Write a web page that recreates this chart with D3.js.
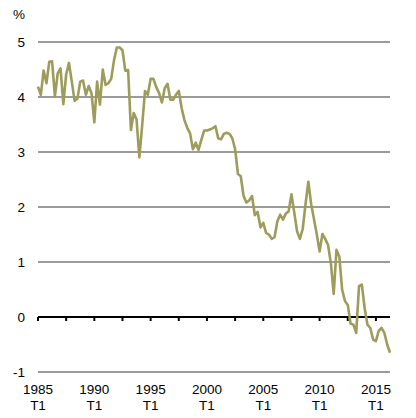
<!DOCTYPE html>
<html>
<head>
<meta charset="utf-8">
<script src="https://cdn.jsdelivr.net/npm/d3@7"></script>
<style>
    body { margin: 0; background: #fff; }
    text { font-family: "Liberation Sans", Arial, sans-serif; font-size: 13.5px; fill: #000; }
</style>
</head>
<body>
<svg id="chart" width="416" height="418"></svg>
<script>
"use strict";

// quarterly values, 1985 T1 .. 2016 T2 (%)
var values = [
    4.19, 4.04, 4.48, 4.25, 4.64, 4.65, 4.01, 4.43, 4.52, 3.87,
    4.41, 4.62, 4.28, 3.93, 3.97, 4.28, 4.30, 4.04, 4.20, 4.07,
    3.54, 4.28, 3.86, 4.50, 4.22, 4.25, 4.33, 4.67, 4.90, 4.90,
    4.85, 4.48, 4.49, 3.40, 3.71, 3.59, 2.90, 3.49, 4.11, 4.04,
    4.33, 4.33, 4.18, 4.07, 3.90, 4.16, 4.24, 3.95, 3.95, 4.04,
    4.11, 3.80, 3.58, 3.44, 3.34, 3.05, 3.17, 3.04, 3.22, 3.39,
    3.39, 3.41, 3.43, 3.47, 3.25, 3.23, 3.33, 3.35, 3.33, 3.25,
    3.05, 2.60, 2.56, 2.20, 2.08, 2.12, 2.20, 1.85, 1.91, 1.63,
    1.71, 1.53, 1.50, 1.42, 1.45, 1.74, 1.86, 1.77, 1.88, 1.92,
    2.23, 1.90, 1.56, 1.42, 1.60, 2.05, 2.46, 2.05, 1.78, 1.50,
    1.19, 1.51, 1.42, 1.31, 0.98, 0.42, 1.22, 1.10, 0.50, 0.29,
    0.22, -0.12, -0.14, -0.29, 0.56, 0.59, 0.16, -0.14, -0.20, -0.41,
    -0.44, -0.25, -0.20, -0.29, -0.50, -0.65
];

// y axis ticks
var yTicks = [-1, 0, 1, 2, 3, 4, 5];

// x axis labels, one every 20 quarters
var xLabels = ["1985", "1990", "1995", "2000", "2005", "2010", "2015"];
var xLabelSub = "T1";

var svg = d3.select("#chart");

var x = d3.scaleLinear()
    .domain([0, values.length - 1])
    .range([38, 390]);

var y = d3.scaleLinear()
    .domain([-1, 5])
    .range([372, 42]);

//grid lines
svg.append("g")
    .attr("class", "grid")
    .selectAll("line")
    .data(yTicks.filter(function(d){ return d !== 0; }))
    .enter()
    .append("line")
    .attr("x1", x(0))
    .attr("x2", x(values.length - 1))
    .attr("y1", function(d){ return y(d); })
    .attr("y2", function(d){ return y(d); })
    .attr("stroke", "#7a7a7a")
    .attr("stroke-width", 1.5);

//y labels
svg.append("g")
    .selectAll("text")
    .data(yTicks)
    .enter()
    .append("text")
    .attr("x", 25)
    .attr("y", function(d){ return y(d) + 5; })
    .attr("text-anchor", "end")
    .text(function(d){ return d; });

svg.append("text")
    .attr("x", 13)
    .attr("y", 19)
    .text("%");

//zero axis with ticks every 10 quarters
var zeroY = y(0);
svg.append("line")
    .attr("x1", x(0))
    .attr("x2", x(values.length - 1))
    .attr("y1", zeroY)
    .attr("y2", zeroY)
    .attr("stroke", "#000")
    .attr("stroke-width", 2.2);

svg.append("g")
    .selectAll("line")
    .data(d3.range(0, values.length, 10))
    .enter()
    .append("line")
    .attr("x1", function(d){ return x(d); })
    .attr("x2", function(d){ return x(d); })
    .attr("y1", zeroY)
    .attr("y2", zeroY + 4)
    .attr("stroke", "#000")
    .attr("stroke-width", 2);

//x labels
var gLabel = svg.append("g")
    .selectAll("g")
    .data(xLabels)
    .enter()
    .append("g")
    .attr("transform", function(d, i){ return "translate(" + x(i * 20) + ",0)"; });

gLabel.append("text")
    .attr("y", 394)
    .attr("text-anchor", "middle")
    .text(function(d){ return d; });

gLabel.append("text")
    .attr("y", 410)
    .attr("text-anchor", "middle")
    .text(xLabelSub);

//series line
var line = d3.line()
    .x(function(d, i){ return x(i); })
    .y(function(d){ return y(d); });

svg.append("path")
    .datum(values)
    .attr("d", line)
    .attr("fill", "none")
    .attr("stroke", "#9d9c5b")
    .attr("stroke-width", 2.6)
    .attr("stroke-linejoin", "round");
</script>
</body>
</html>
